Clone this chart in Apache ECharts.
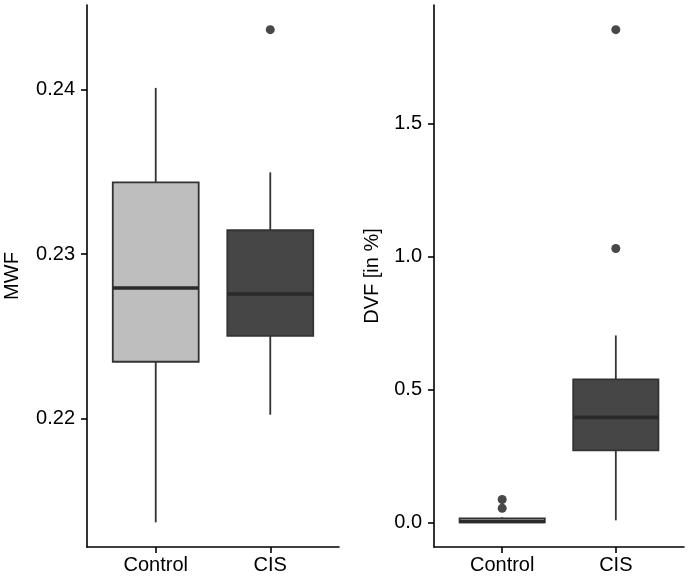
<!DOCTYPE html>
<html>
<head>
<meta charset="utf-8">
<script src="https://cdn.jsdelivr.net/npm/echarts@6/dist/echarts.min.js"></script>
<style>html,body{margin:0;padding:0;background:#fff;}#c{width:689px;height:576px;}</style>
</head>
<body>
<div id="c"></div>
<script>
// ---- data ----
const categories = ['Control', 'CIS'];
// [lower whisker, Q1, median, Q3, upper whisker]
const mwfControl = [0.2137, 0.22346, 0.22794, 0.23436, 0.2401];
const mwfCIS = [0.22024, 0.22503, 0.22758, 0.23145, 0.23497];
const mwfOutliers = [[2, 0.24364]];
const dvfControl = [0.0, 0.0, 0.003, 0.015, 0.019];
const dvfCIS = [0.0075, 0.271, 0.395, 0.5376, 0.703];
const dvfOutliers = [[1, 0.086], [1, 0.053], [2, 1.853], [2, 1.030]];
const mwfTicks = [0.22, 0.23, 0.24];
const dvfTicks = [0.0, 0.5, 1.0, 1.5];
const fills = ['#bebebe', '#464646'];

const FONT = "'Liberation Sans', Arial, sans-serif";
const FS = 20;

function expand(boxes, outliers) {
  let lo = Infinity, hi = -Infinity;
  boxes.forEach(b => b.forEach(v => { lo = Math.min(lo, v); hi = Math.max(hi, v); }));
  outliers.forEach(o => { lo = Math.min(lo, o[1]); hi = Math.max(hi, o[1]); });
  const r = hi - lo;
  return [lo - 0.05 * r, hi + 0.05 * r];
}
const mwfRange = expand([mwfControl, mwfCIS], mwfOutliers);
const dvfRange = expand([dvfControl, dvfCIS], dvfOutliers);

function boxData(boxes) {
  return boxes.map((b, i) => [i + 1].concat(b).concat([i]));
}

function renderBox(params, api) {
  const x = api.value(0);
  const hw = 0.375;
  const lw = api.value(1), q1 = api.value(2), md = api.value(3), q3 = api.value(4), uw = api.value(5);
  const ci = api.value(6);
  const pTL = api.coord([x - hw, q3]);
  const pBR = api.coord([x + hw, q1]);
  const pMidL = api.coord([x - hw, md]);
  const pMidR = api.coord([x + hw, md]);
  const pUw = api.coord([x, uw]);
  const pQ3 = api.coord([x, q3]);
  const pQ1 = api.coord([x, q1]);
  const pLw = api.coord([x, lw]);
  const lineStyle = { stroke: '#333333', lineWidth: 1.8, fill: null };
  return {
    type: 'group',
    children: [
      { type: 'line', shape: { x1: pUw[0], y1: pUw[1], x2: pQ3[0], y2: pQ3[1] }, style: lineStyle },
      { type: 'line', shape: { x1: pQ1[0], y1: pQ1[1], x2: pLw[0], y2: pLw[1] }, style: lineStyle },
      { type: 'rect', shape: { x: pTL[0], y: pTL[1], width: pBR[0] - pTL[0], height: pBR[1] - pTL[1] },
        style: { fill: fills[ci], stroke: '#333333', lineWidth: 1.8 } },
      { type: 'line', shape: { x1: pMidL[0], y1: pMidL[1], x2: pMidR[0], y2: pMidR[1] },
        style: { stroke: '#2a2a2a', lineWidth: 3.6 } }
    ]
  };
}

function xAxis(gi) {
  return {
    type: 'value', gridIndex: gi, min: 0.4, max: 2.6,
    axisLine: { show: true, onZero: false, lineStyle: { color: '#000', width: 1.6 } },
    axisTick: { show: true, customValues: [1, 2], length: 6, lineStyle: { color: '#000', width: 1.6 } },
    axisLabel: { customValues: [1, 2], formatter: v => categories[Math.round(v) - 1], color: '#000',
      fontSize: FS, fontFamily: FONT, margin: 8 },
    splitLine: { show: false }
  };
}
function yAxis(gi, range, ticks, name, gap, fmt) {
  return {
    type: 'value', gridIndex: gi, min: range[0], max: range[1],
    name: name, nameLocation: 'middle', nameGap: gap,
    nameTextStyle: { color: '#000', fontSize: FS, fontFamily: FONT },
    axisLine: { show: true, onZero: false, lineStyle: { color: '#000', width: 1.6 } },
    axisTick: { show: true, customValues: ticks, length: 6, lineStyle: { color: '#000', width: 1.6 } },
    axisLabel: { customValues: ticks, formatter: fmt, color: '#000', fontSize: FS, fontFamily: FONT, margin: 12 },
    splitLine: { show: false }
  };
}

const chart = echarts.init(document.getElementById('c'), null, { renderer: 'canvas' });
chart.setOption({
  backgroundColor: '#ffffff',
  animation: false,
  grid: [
    { left: 87, right: 350, top: 5, bottom: 29 },
    { left: 434, right: 5, top: 5, bottom: 29 }
  ],
  xAxis: [xAxis(0), xAxis(1)],
  yAxis: [
    yAxis(0, mwfRange, mwfTicks, 'MWF', 65, v => v.toFixed(2)),
    yAxis(1, dvfRange, dvfTicks, 'DVF [in %]', 52, v => v.toFixed(1))
  ],
  series: [
    { type: 'custom', xAxisIndex: 0, yAxisIndex: 0, renderItem: renderBox,
      encode: { x: 0, y: [1, 2, 3, 4, 5] }, data: boxData([mwfControl, mwfCIS]) },
    { type: 'scatter', xAxisIndex: 0, yAxisIndex: 0, data: mwfOutliers, symbolSize: 9,
      itemStyle: { color: '#1a1a1a' } },
    { type: 'custom', xAxisIndex: 1, yAxisIndex: 1, renderItem: renderBox,
      encode: { x: 0, y: [1, 2, 3, 4, 5] }, data: boxData([dvfControl, dvfCIS]) },
    { type: 'scatter', xAxisIndex: 1, yAxisIndex: 1, data: dvfOutliers, symbolSize: 9,
      itemStyle: { color: '#1a1a1a' } }
  ]
});
</script>
</body>
</html>
